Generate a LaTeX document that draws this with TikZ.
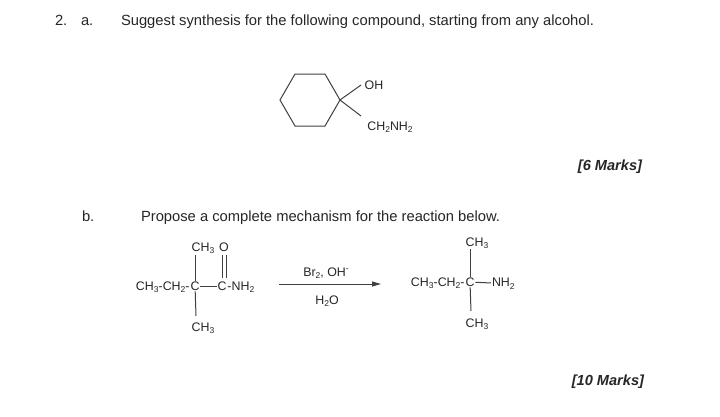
\documentclass[tikz,border=0pt]{standalone}
\usepackage{fontspec}
\setmainfont{Liberation Sans}
\usetikzlibrary{positioning,arrows.meta}
\newcommand{\sbs}[1]{\raisebox{-0.4ex}{\fontsize{8.5}{9}\selectfont #1}}
\newcommand{\sps}[1]{\raisebox{0.7ex}{\fontsize{8.5}{9}\selectfont #1}}

\begin{document}
\begin{tikzpicture}[x=1pt,y=-1pt,inner sep=0pt,outer sep=1pt,
    txt/.style={font=\fontsize{14.75}{16}\selectfont,text=black!85,outer sep=0pt},
    chem/.style={font=\fontsize{12.4}{14}\selectfont,text=black!85},
    marks/.style={font=\fontsize{14.6}{16}\selectfont\bfseries\itshape,text=black!85,outer sep=0pt},
    bond/.style={draw=black!75,line width=1pt}]
    \useasboundingbox[fill=white] (0,0) rectangle (720,416);

    % part a
    \node[txt,anchor=base west] (num) at (55,25) {2.};
    \node[txt,anchor=base west] (parta) at (81,25) {a.};
    \node[txt,anchor=base west] (q1) at (121,25) {Suggest synthesis for the following compound, starting from any alcohol.};

    \coordinate (r1) at (295,74);
    \coordinate (r2) at (325,74);
    \coordinate (r3) at (340,100);
    \coordinate (r4) at (325,126);
    \coordinate (r5) at (295,126);
    \coordinate (r6) at (280,100);
    \draw[bond] (r1) -- (r2) -- (r3) -- (r4) -- (r5) -- (r6) -- cycle;
    \node[chem] (oh) at (374,85) {OH};
    \node[chem] (amine) at (390,127) {CH\sbs{2}NH\sbs{2}};
    \coordinate (ohend) at (361,85);
    \coordinate (amend) at (361,116);
    \draw[bond] (r3) -- (ohend);
    \draw[bond] (r3) -- (amend);
    \node[marks,anchor=base east] (m1) at (642,170) {[6 Marks]};

    % part b
    \node[txt,anchor=base west] (partb) at (82,221) {b.};
    \node[txt,anchor=base west] (q2) at (141,221) {Propose a complete mechanism for the reaction below.};

    % reactant
    \node[chem] (cq) at (195,286) {C};
    \node[chem,anchor=base east,outer sep=0pt] (chain) at (cq.base west) {CH\sbs{3}-CH\sbs{2}-};
    \node[chem] (co) at (222,286) {C};
    \node[chem,anchor=base west,outer sep=0pt] (nh) at (co.base east) {-NH\sbs{2}};
    \node[chem,anchor=base] (ch3a) at (203,251) {CH\sbs{3}};
    \node[chem,anchor=base] (ch3b) at (203,331) {CH\sbs{3}};
    \node[chem,anchor=base] (ox) at (224,251) {O};
    \coordinate (ta) at (195,255);
    \coordinate (tb) at (196,316);
    \coordinate (d1) at (222,255);
    \coordinate (d2) at (222,278);
    \coordinate (d3) at (226,255);
    \coordinate (d4) at (226,278);
    \draw[bond] (ta) -- (cq);
    \draw[bond] (cq) -- (tb);
    \draw[bond] (cq) -- (co);
    \draw[bond] (d1) -- (d2);
    \draw[bond] (d3) -- (d4);

    % arrow
    \coordinate (a1) at (279,284);
    \coordinate (a2) at (381,284);
    \draw[bond,-{Triangle[length=9pt,width=5pt]}] (a1) -- (a2);
    \node[chem] (reag) at (326,273) {Br\sbs{2}, OH\sps{-}};
    \node[chem] (solv) at (327,301) {H\sbs{2}O};

    % product
    \node[chem] (cp) at (470,282) {C};
    \node[chem,anchor=base east,outer sep=0pt] (chainp) at (cp.base west) {CH\sbs{3}-CH\sbs{2}-};
    \node[chem,anchor=base west] (nhp) at (491,286.5) {NH\sbs{2}};
    \node[chem,anchor=base] (ch3c) at (477,246) {CH\sbs{3}};
    \node[chem,anchor=base] (ch3d) at (477,327) {CH\sbs{3}};
    \coordinate (tc) at (470,249);
    \coordinate (td) at (471,311);
    \draw[bond] (tc) -- (cp);
    \draw[bond] (cp) -- (td);
    \draw[bond] (cp) -- (nhp);
    \node[marks,anchor=base east] (m2) at (644,385) {[10 Marks]};
\end{tikzpicture}
\end{document}
